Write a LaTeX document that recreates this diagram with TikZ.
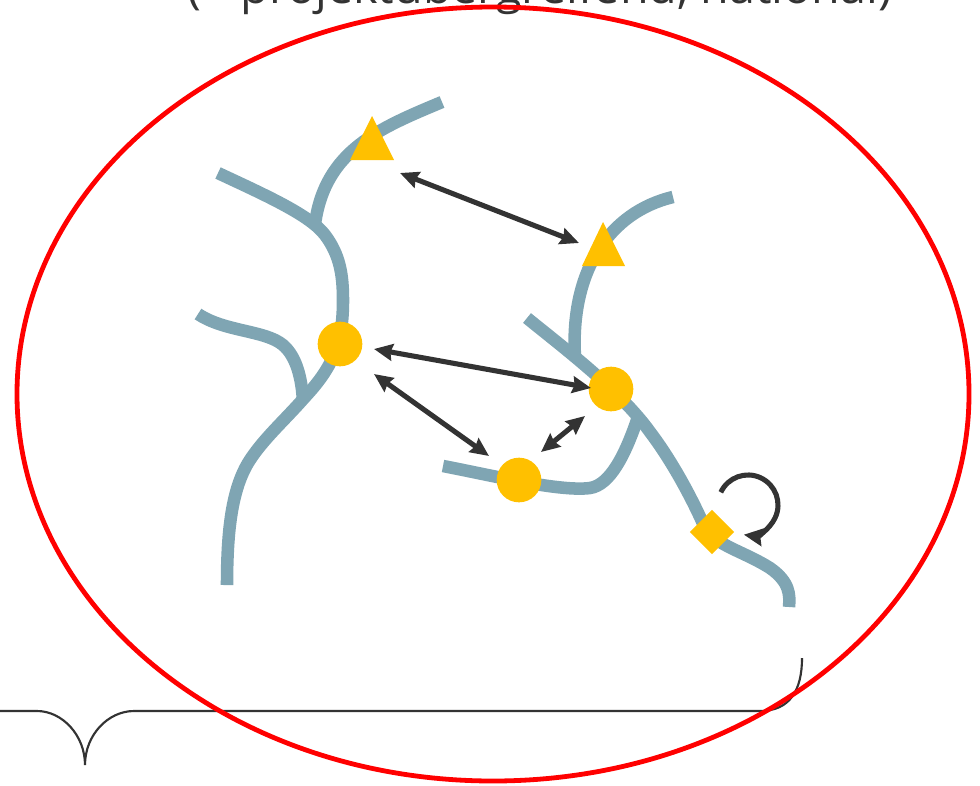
\documentclass[tikz,border=0pt]{standalone}
\usepackage{fontspec}
\setmainfont{Open Sans}
\usetikzlibrary{arrows.meta,shapes.geometric}
\definecolor{branch}{RGB}{127,165,179}
\definecolor{gold}{RGB}{255,192,0}
\definecolor{darkg}{RGB}{51,51,51}
\definecolor{ringred}{RGB}{255,0,0}
\begin{document}
\begin{tikzpicture}[x=0.75pt,y=-0.75pt,
  branchline/.style={draw=branch,line width=9.4pt,line cap=butt},
  goldcirc/.style={circle,fill=gold,minimum size=33.5pt,inner sep=0pt},
  golddiam/.style={diamond,fill=gold,minimum width=33.5pt,minimum height=33.5pt,inner sep=0pt},
  goldtri/.style={fill=gold},
  tipstyle/.style={},
  conn/.style={draw=darkg,line width=3.8pt,{Stealth[length=14pt,width=12.5pt,inset=1.5pt]}-{Stealth[length=14pt,width=12.5pt,inset=1.5pt]}},
  loopar/.style={draw=darkg,line width=3.8pt,-{Stealth[length=14pt,width=13pt,inset=1.5pt]}},
  bracel/.style={draw=darkg,line width=1.6pt},
  ring/.style={draw=ringred,line width=3.6pt}]
\useasboundingbox (0,0) rectangle (980,785);

% title text (cut at the top edge, as in the reference)
\node[font=\fontsize{35}{42}\selectfont,text=darkg,anchor=base,inner sep=0pt] (title) at (540,3) {(= projektübergreifend, national)};

% brace
\draw[bracel] (-5,711) -- (37,711) .. controls (62,711) and (85,735) .. (85,765)
  .. controls (85,735) and (108,711) .. (134,711) -- (760,711)
  .. controls (790,711) and (802,690) .. (802,658);

% red ellipse
\draw[ring] (493,394) ellipse[x radius=476,y radius=387];

% left tree
\draw[branchline] (218,173) .. controls (265,195) and (310,215) .. (325,235)
  .. controls (340,255) and (343,275) .. (343,300)
  .. controls (343,340) and (335,365) .. (305,397)
  .. controls (285,420) and (262,440) .. (248,463)
  .. controls (232,490) and (227,530) .. (227,585);
\draw[branchline] (442,102) .. controls (380,128) and (325,150) .. (315,224);
\draw[branchline] (198,314) .. controls (225,332) and (265,330) .. (283,345)
  .. controls (297,357) and (302,380) .. (303,402);

% right tree
\draw[branchline] (673,197) .. controls (610,212) and (570,270) .. (575,357);
\draw[branchline] (527,318) .. controls (560,345) and (620,390) .. (650,432)
  .. controls (675,465) and (695,505) .. (705,528)
  .. controls (715,545) and (745,552) .. (770,568)
  .. controls (790,582) and (790,595) .. (789,607);
\draw[branchline] (443,466) .. controls (490,475) and (560,492) .. (590,488)
  .. controls (610,485) and (625,455) .. (637,420);

% gold markers
\fill[goldtri] (350,160) -- (372,116) -- (394,160) -- cycle;
\fill[goldtri] (582,266) -- (603,222) -- (625,266) -- cycle;
\node[goldcirc] (c1) at (340,344) {};
\node[goldcirc] (c2) at (611,389) {};
\node[goldcirc] (c3) at (519,480) {};
\node[golddiam] (d1) at (712,532) {};

% connectors
\coordinate (a1s) at (400,173); \coordinate (a1e) at (579,243);
\coordinate (a2s) at (374,349); \coordinate (a2e) at (591,388);
\coordinate (a3s) at (374,374); \coordinate (a3e) at (489,456);
\coordinate (a4s) at (541,452); \coordinate (a4e) at (585,416);
\draw[conn] (a1s) -- (a1e);
\draw[conn] (a2s) -- (a2e);
\draw[conn] (a3s) -- (a3e);
\draw[conn] (a4s) -- (a4e);

% self loop at the diamond
\coordinate (ls) at (720.8,492.3);
\draw[loopar] (ls) arc[start angle=155,end angle=-98,radius=22.5pt];
\end{tikzpicture}
\end{document}
